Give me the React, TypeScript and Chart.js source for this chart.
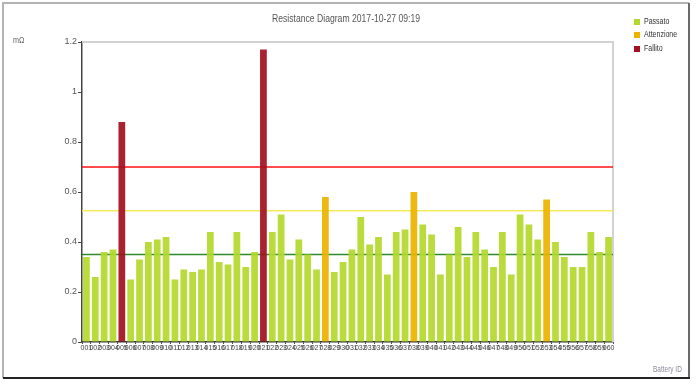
import React, { useEffect, useRef } from 'react';
import { Chart, registerables } from 'chart.js';

Chart.register(...registerables);

const batteryIds = [
  '001', '002', '003', '004', '005', '006', '007', '008', '009', '010',
  '011', '012', '013', '014', '015', '016', '017', '018', '019', '020',
  '021', '022', '023', '024', '025', '026', '027', '028', '029', '030',
  '031', '032', '033', '034', '035', '036', '037', '038', '039', '040',
  '041', '042', '043', '044', '045', '046', '047', '048', '049', '050',
  '051', '052', '053', '054', '055', '056', '057', '058', '059', '060',
];

const resistance = [
  0.34, 0.26, 0.36, 0.37, 0.88, 0.25, 0.33, 0.40, 0.41, 0.42,
  0.25, 0.29, 0.28, 0.29, 0.44, 0.32, 0.31, 0.44, 0.30, 0.36,
  1.17, 0.44, 0.51, 0.33, 0.41, 0.35, 0.29, 0.58, 0.28, 0.32,
  0.37, 0.50, 0.39, 0.42, 0.27, 0.44, 0.45, 0.60, 0.47, 0.43,
  0.27, 0.35, 0.46, 0.34, 0.44, 0.37, 0.30, 0.44, 0.27, 0.51,
  0.47, 0.41, 0.57, 0.40, 0.34, 0.30, 0.30, 0.44, 0.36, 0.42,
];

const referenceLevel = 0.35;
const warningLevel = 0.525;
const failLevel = 0.7;

const legendLabels = ['Passato', 'Attenzione', 'Fallito'];
const legendColors = ['#b3d82c', '#edb200', '#a3101f'];

const titleText = 'Resistance Diagram 2017-10-27 09:19';
const yUnit = 'mΩ';
const xUnit = 'Battery ID';

const FONT = '"Liberation Sans", Arial, sans-serif';

function statusColor(v: number) {
  if (v > failLevel) return legendColors[2];
  if (v > warningLevel) return legendColors[1];
  return legendColors[0];
}

function narrowText(ctx: CanvasRenderingContext2D, text: string, x: number, y: number, squeeze: number) {
  const w = ctx.measureText(text).width;
  ctx.fillText(text, x, y, w * squeeze);
}

const decor = {
  id: 'decor',
  beforeDatasetsDraw(chart: any) {
    const { ctx, chartArea: a, scales } = chart;
    const y = scales.y;
    ctx.save();
    ctx.strokeStyle = '#d2d2d2';
    ctx.lineWidth = 2;
    ctx.beginPath();
    ctx.moveTo(a.left, a.top);
    ctx.lineTo(a.right, a.top);
    ctx.lineTo(a.right, a.bottom);
    ctx.stroke();
    const lines: [number, string][] = [
      [failLevel, '#ff1010'],
      [warningLevel, '#f7ea5a'],
      [referenceLevel, '#2f8a2f'],
    ];
    ctx.lineWidth = 1.5;
    for (const [v, c] of lines) {
      const py = y.getPixelForValue(v);
      ctx.strokeStyle = c;
      ctx.beginPath();
      ctx.moveTo(a.left, py);
      ctx.lineTo(a.right, py);
      ctx.stroke();
    }
    ctx.restore();
  },
  afterDraw(chart: any) {
    const { ctx } = chart;
    ctx.save();
    ctx.fillStyle = '#555555';
    ctx.font = `11px ${FONT}`;
    ctx.textAlign = 'center';
    ctx.textBaseline = 'middle';
    ctx.fillText(titleText, 346, 19, 148);
    ctx.font = `9px ${FONT}`;
    ctx.textAlign = 'left';
    ctx.fillStyle = '#666666';
    narrowText(ctx, yUnit, 13, 41, 0.8);
    ctx.fillStyle = '#8a8a99';
    narrowText(ctx, xUnit, 653, 370, 0.72);
    ctx.font = `9px ${FONT}`;
    const ys = [22, 35, 49];
    legendLabels.forEach((lab, i) => {
      ctx.fillStyle = legendColors[i];
      ctx.fillRect(634, ys[i] - 3, 6, 6);
      ctx.fillStyle = '#333333';
      narrowText(ctx, lab, 644, ys[i], 0.78);
    });
    ctx.strokeStyle = '#b4b4b4';
    ctx.lineWidth = 2;
    ctx.beginPath();
    ctx.moveTo(3, 378);
    ctx.lineTo(3, 3);
    ctx.lineTo(689, 3);
    ctx.stroke();
    ctx.strokeStyle = '#6a6a6a';
    ctx.beginPath();
    ctx.moveTo(689, 3);
    ctx.lineTo(689, 378);
    ctx.stroke();
    ctx.strokeStyle = '#222222';
    ctx.beginPath();
    ctx.moveTo(3, 378);
    ctx.lineTo(690, 378);
    ctx.stroke();
    ctx.restore();
  },
};

export default function App() {
  const ref = useRef<HTMLCanvasElement | null>(null);
  useEffect(() => {
    if (!ref.current) return;
    const chart = new Chart(ref.current, {
      type: 'bar',
      data: {
        labels: batteryIds,
        datasets: [
          {
            label: 'Resistance',
            data: resistance,
            backgroundColor: resistance.map((v) => statusColor(v) + 'ec'),
            borderWidth: 0,
            barPercentage: 0.76,
            categoryPercentage: 1,
          },
        ],
      },
      options: {
        responsive: false,
        animation: false,
        layout: { padding: { left: 0, top: 42, right: 83, bottom: 31 } },
        plugins: {
          legend: { display: false },
          title: { display: false },
          tooltip: { enabled: false },
        },
        scales: {
          x: {
            afterFit: (s: any) => {
              s.height = 12;
            },
            grid: {
              display: true,
              drawOnChartArea: false,
              tickLength: 2,
              color: '#444444',
            },
            border: { display: true, color: '#333333', width: 1.5 },
            ticks: {
              autoSkip: false,
              maxRotation: 0,
              minRotation: 0,
              padding: 0,
              color: '#444444',
              font: { family: FONT, size: 7 },
            },
          },
          y: {
            min: 0,
            max: 1.2,
            afterFit: (s: any) => {
              s.width = 82;
            },
            grid: {
              display: true,
              drawOnChartArea: false,
              tickLength: 4,
              color: '#444444',
            },
            border: { display: true, color: '#444444', width: 1.5 },
            ticks: {
              stepSize: 0.2,
              padding: 1,
              color: '#555555',
              font: { family: FONT, size: 9 },
              callback: (v: any) => String(Number(Number(v).toFixed(2))),
            },
          },
        },
      },
      plugins: [decor],
    });
    return () => chart.destroy();
  }, []);
  return (
    <div style={{ position: 'absolute', left: 0, top: 0, width: 696, height: 385, background: '#ffffff' }}>
      <canvas ref={ref} width={696} height={385} />
    </div>
  );
}
